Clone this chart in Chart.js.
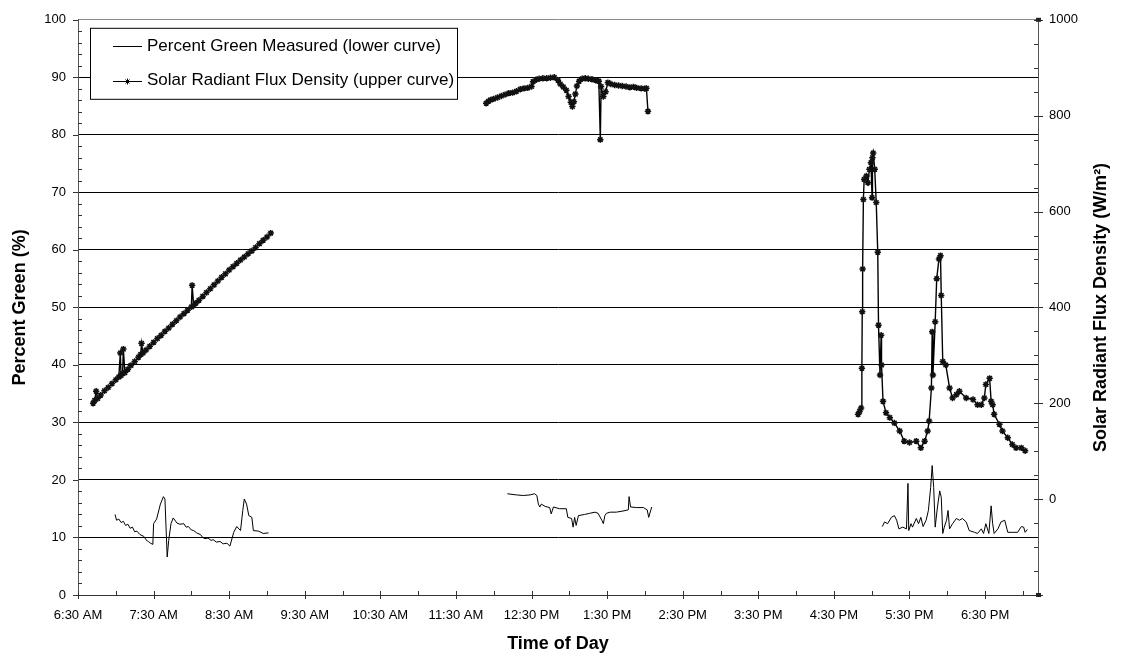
<!DOCTYPE html>
<html>
<head>
<meta charset="utf-8">
<title>Percent Green and Solar Radiant Flux Density</title>
<script src="https://cdn.jsdelivr.net/npm/chart.js@4/dist/chart.umd.min.js"></script>
<style>
  html, body { margin: 0; padding: 0; background: #fff; }
  #wrap { width: 1122px; height: 656px; }
</style>
</head>
<body>
<div id="wrap"><canvas id="myChart" width="1122" height="656"></canvas></div>
<script>
'use strict';

// x axis, hours of the day
var xTickHours = [6.5, 7.5, 8.5, 9.5, 10.5, 11.5, 12.5, 13.5, 14.5, 15.5, 16.5, 17.5, 18.5];
var xTickLabels = ['6:30 AM', '7:30 AM', '8:30 AM', '9:30 AM', '10:30 AM', '11:30 AM', '12:30 PM',
                   '1:30 PM', '2:30 PM', '3:30 PM', '4:30 PM', '5:30 PM', '6:30 PM'];

var greenLabel = 'Percent Green Measured (lower curve)';
var fluxLabel = 'Solar Radiant Flux Density (upper curve)';
var leftTitle = 'Percent Green (%)';
var rightTitle = 'Solar Radiant Flux Density (W/m\u00b2)';
var bottomTitle = 'Time of Day';

// lower curve - percent green (left axis)
var greenAmTime = [6.99, 7.01, 7.04, 7.07, 7.10, 7.13, 7.16, 7.19, 7.22, 7.25, 7.28, 7.32, 7.37, 7.40, 7.43,
                   7.46, 7.49, 7.50, 7.54, 7.59, 7.63, 7.65, 7.68, 7.70, 7.73, 7.76, 7.81, 7.85, 7.90, 7.93,
                   7.96, 8.00, 8.03, 8.07, 8.12, 8.15, 8.18, 8.22, 8.26, 8.29, 8.33, 8.38, 8.42, 8.47, 8.51,
                   8.56, 8.60, 8.65, 8.68, 8.70, 8.73, 8.76, 8.80, 8.82, 8.89, 8.95, 9.02];
var greenAmValue = [14.0, 13.0, 13.2, 12.6, 12.8, 12.1, 12.3, 11.6, 11.8, 11.0, 11.1, 10.5, 10.2, 9.6, 9.3,
                    9.0, 8.8, 12.4, 13.2, 15.8, 17.1, 16.7, 6.6, 9.5, 12.4, 13.4, 12.5, 12.3, 12.4, 11.8,
                    11.9, 11.3, 11.2, 10.8, 10.5, 10.0, 9.8, 9.9, 9.5, 9.6, 9.2, 9.3, 8.9, 9.0, 8.5,
                    10.9, 11.9, 11.2, 14.7, 16.7, 15.8, 13.8, 13.5, 11.2, 11.1, 10.7, 10.8];

var greenMidTime = [12.18, 12.30, 12.39, 12.48, 12.54, 12.57, 12.59, 12.61, 12.63, 12.68, 12.74, 12.76, 12.79, 12.87,
                    12.96, 12.98, 13.03, 13.05, 13.07, 13.09, 13.12, 13.20, 13.27, 13.34, 13.38, 13.43, 13.45,
                    13.47, 13.49, 13.54, 13.62, 13.71, 13.78, 13.79, 13.81, 13.89, 13.98, 14.03, 14.05, 14.09];
var greenMidValue = [17.6, 17.4, 17.3, 17.4, 17.6, 17.3, 15.8, 15.3, 15.8, 15.4, 15.2, 14.1, 15.3, 15.0,
                     15.0, 13.5, 13.3, 11.8, 13.5, 12.1, 13.8, 14.0, 14.2, 14.4, 14.2, 13.0, 12.4,
                     13.8, 14.2, 14.4, 14.4, 14.6, 14.8, 17.1, 15.3, 15.2, 15.2, 14.8, 13.5, 15.3];

var greenPmTime = [17.14, 17.17, 17.21, 17.26, 17.30, 17.33, 17.36, 17.41, 17.46, 17.48, 17.49, 17.52, 17.54, 17.59,
                   17.62, 17.65, 17.68, 17.72, 17.75, 17.78, 17.80, 17.82, 17.84, 17.87, 17.90, 17.92, 17.94,
                   17.96, 17.99, 18.01, 18.03, 18.07, 18.12, 18.16, 18.20, 18.25, 18.29, 18.36, 18.40, 18.45,
                   18.48, 18.51, 18.55, 18.58, 18.60, 18.62, 18.67, 18.71, 18.76, 18.80, 18.86, 18.93, 18.98,
                   19.01, 19.03, 19.06];
var greenPmValue = [11.9, 12.7, 12.4, 13.5, 13.8, 13.0, 11.5, 11.8, 11.5, 19.4, 11.2, 12.4, 11.8, 13.3,
                    12.4, 13.5, 11.9, 13.0, 14.7, 18.7, 22.5, 18.7, 11.8, 15.3, 18.1, 17.0, 10.7,
                    11.8, 13.0, 14.7, 11.5, 12.4, 13.3, 13.0, 13.3, 12.7, 11.2, 10.9, 10.7, 11.5,
                    10.7, 12.4, 10.7, 15.5, 12.4, 10.7, 11.5, 12.7, 13.0, 10.9, 10.9, 10.9, 11.9,
                    11.8, 10.9, 11.4];

// upper curve - solar radiant flux density, W/m2 (right axis)
var fluxAmTime = [6.70, 6.72, 6.74, 6.76, 6.80, 6.85, 6.90, 6.95, 7.00, 7.04, 7.06, 7.07, 7.09, 7.10, 7.12,
                  7.16, 7.20, 7.25, 7.30, 7.33, 7.34, 7.36, 7.40, 7.45, 7.50, 7.55, 7.60, 7.65, 7.70, 7.75,
                  7.80, 7.85, 7.90, 7.95, 8.00, 8.01, 8.03, 8.06, 8.10, 8.15, 8.20, 8.25, 8.30, 8.35, 8.40,
                  8.45, 8.50, 8.55, 8.60, 8.65, 8.70, 8.75, 8.80, 8.85, 8.90, 8.95, 9.00, 9.05];
var fluxAmValue = [200, 206, 225, 210, 217, 226, 233, 241, 249, 255, 305, 258, 262, 313, 264,
                   271, 279, 287, 296, 302, 325, 305, 311, 319, 327, 335, 342, 350, 357, 365,
                   372, 380, 387, 394, 401, 446, 404, 409, 415, 423, 431, 439, 447, 455, 463,
                   470, 478, 485, 492, 499, 505, 512, 518, 525, 533, 540, 547, 555];

var fluxMidTime = [11.90, 11.93, 11.96, 12.00, 12.05, 12.10, 12.15, 12.20, 12.25, 12.30, 12.35, 12.40, 12.45, 12.50,
                   12.52, 12.56, 12.60, 12.65, 12.70, 12.75, 12.80, 12.85, 12.88, 12.92, 12.96, 12.99, 13.02,
                   13.04, 13.06, 13.08, 13.10, 13.13, 13.17, 13.21, 13.25, 13.30, 13.35, 13.39, 13.41, 13.42,
                   13.45, 13.48, 13.51, 13.55, 13.60, 13.65, 13.70, 13.75, 13.80, 13.85, 13.89, 13.95, 14.00,
                   14.02, 14.04];
var fluxMidValue = [826, 830, 833, 835, 838, 841, 844, 847, 848, 851, 855, 857, 858, 861,
                    871, 875, 877, 878, 878, 879, 880, 874, 866, 860, 853, 840, 828,
                    819, 829, 845, 862, 872, 877, 878, 877, 876, 874, 872, 750, 861,
                    840, 850, 869, 866, 864, 863, 862, 861, 859, 860, 858, 857, 856,
                    857, 809];

var fluxPmTime = [16.82, 16.84, 16.86, 16.87, 16.875, 16.88, 16.89, 16.90, 16.93, 16.95, 16.97, 16.99, 17.005, 17.01,
                  17.02, 17.04, 17.06, 17.08, 17.09, 17.11, 17.125, 17.13, 17.15, 17.19, 17.24, 17.30, 17.37,
                  17.43, 17.50, 17.59, 17.65, 17.70, 17.74, 17.76, 17.79, 17.80, 17.81, 17.84, 17.86, 17.89,
                  17.91, 17.92, 17.94, 17.98, 18.03, 18.07, 18.12, 18.16, 18.25, 18.34, 18.40, 18.45, 18.49,
                  18.51, 18.56, 18.58, 18.60, 18.62, 18.69, 18.73, 18.80, 18.86, 18.91, 18.98, 19.03];
var fluxPmValue = [177, 183, 190, 273, 391, 480, 625, 667, 674, 660, 688, 702, 629, 712,
                   722, 688, 619, 515, 363, 259, 342, 280, 204, 180, 170, 159, 142,
                   121, 118, 121, 107, 121, 142, 163, 232, 349, 259, 370, 460, 501,
                   508, 425, 287, 280, 232, 211, 218, 225, 211, 208, 197, 197, 211,
                   239, 252, 204, 197, 177, 156, 142, 128, 114, 107, 107, 101];

var FONT = '"Liberation Sans", Arial, Helvetica, sans-serif';

// glue segments together with a null point so the line breaks between them
function buildPoints(times, values) {
    var pts = [];
    for (var s = 0; s < times.length; s++) {
        if (s > 0) {
            var prev = times[s - 1];
            pts.push({ x: (prev[prev.length - 1] + times[s][0]) / 2, y: null });
        }
        for (var i = 0; i < times[s].length; i++) {
            pts.push({ x: times[s][i], y: values[s][i] });
        }
    }
    return pts;
}

var greenPoints = buildPoints([greenAmTime, greenMidTime, greenPmTime], [greenAmValue, greenMidValue, greenPmValue]);
var fluxPoints = buildPoints([fluxAmTime, fluxMidTime, fluxPmTime], [fluxAmValue, fluxMidValue, fluxPmValue]);

function line(ctx, x1, y1, x2, y2) {
    ctx.beginPath();
    ctx.moveTo(x1, y1);
    ctx.lineTo(x2, y2);
    ctx.stroke();
}

// excel style tick marks, legend box, right title
var decorations = {
    id: 'decorations',
    beforeDatasetsDraw: function (chart) {
        var ctx = chart.ctx;
        var a = chart.chartArea;
        var xs = chart.scales.x, ys = chart.scales.y, ys1 = chart.scales.y1;
        var v, p;
        ctx.save();
        ctx.strokeStyle = '#333';
        ctx.lineWidth = 1;
        // x ticks
        for (v = 6.5; v <= 19.01; v += 0.5) {
            p = Math.round(xs.getPixelForValue(v)) + 0.5;
            if (xTickHours.indexOf(v) >= 0) line(ctx, p, a.bottom - 4, p, a.bottom + 4);
            else line(ctx, p, a.bottom - 4, p, a.bottom);
        }
        // left ticks
        for (v = 0; v <= 100; v += 2) {
            p = Math.round(ys.getPixelForValue(v)) + 0.5;
            if (v % 10 === 0) line(ctx, a.left - 5, p, a.left, p);
            else line(ctx, a.left, p, a.left + 4, p);
        }
        // right ticks
        for (v = -200; v <= 1000; v += 50) {
            p = Math.round(ys1.getPixelForValue(v)) + 0.5;
            if (v % 200 === 0) line(ctx, a.right - 4, p, a.right + 5, p);
            else line(ctx, a.right - 4, p, a.right, p);
        }
        // the little end blocks on the right axis
        ctx.fillStyle = '#222';
        ctx.fillRect(a.right - 2, ys1.getPixelForValue(1000) - 2, 5, 4);
        ctx.fillRect(a.right - 2, ys1.getPixelForValue(-200) - 2, 5, 4);
        ctx.restore();
    },
    afterDatasetsDraw: function (chart) {
        var ctx = chart.ctx;
        var a = chart.chartArea;
        var lx = a.left + 12, ly = a.top + 8, lw = 367, lh = 71;
        var rows = [ly + 18.5, ly + 53];
        ctx.save();
        ctx.fillStyle = '#fff';
        ctx.fillRect(lx, ly, lw, lh);
        ctx.strokeStyle = '#000';
        ctx.lineWidth = 1;
        ctx.strokeRect(lx + 0.5, ly + 0.5, lw, lh);
        ctx.font = '17px ' + FONT;
        ctx.textBaseline = 'middle';
        ctx.textAlign = 'left';
        ctx.fillStyle = '#000';
        for (var i = 0; i < chart.data.datasets.length; i++) {
            var ry = Math.round(rows[i]) + 0.5;
            ctx.lineWidth = 1;
            line(ctx, lx + 23, ry, lx + 52, ry);
            if (i === 1) {
                var cx = lx + 37.5;
                line(ctx, cx, ry - 3, cx, ry + 3);
                line(ctx, cx - 2, ry - 2, cx + 2, ry + 2);
                line(ctx, cx - 2, ry + 2, cx + 2, ry - 2);
            }
            ctx.fillText(chart.data.datasets[i].label, lx + 57, rows[i]);
        }
        ctx.restore();
    },
    afterDraw: function (chart) {
        var ctx = chart.ctx;
        var a = chart.chartArea;
        ctx.save();
        ctx.translate(a.right + 63, (a.top + a.bottom) / 2);
        ctx.rotate(-Math.PI / 2);
        ctx.font = 'bold 18px ' + FONT;
        ctx.fillStyle = '#000';
        ctx.textAlign = 'center';
        ctx.textBaseline = 'middle';
        ctx.fillText(rightTitle, 0, 0);
        ctx.restore();
    }
};

Chart.defaults.font.family = FONT;
Chart.defaults.color = '#000';

var ctx = document.getElementById('myChart').getContext('2d');
var chart = new Chart(ctx, {
    type: 'scatter',
    data: {
        datasets: [
            {
                label: greenLabel,
                data: greenPoints,
                yAxisID: 'y',
                showLine: true,
                spanGaps: false,
                borderColor: '#000',
                borderWidth: 1,
                pointRadius: 0,
                pointHoverRadius: 0
            },
            {
                label: fluxLabel,
                data: fluxPoints,
                yAxisID: 'y1',
                showLine: true,
                spanGaps: false,
                borderColor: '#000',
                borderWidth: 1.4,
                pointStyle: 'star',
                pointRadius: 3.2,
                pointBorderColor: '#111',
                pointBackgroundColor: '#111',
                pointBorderWidth: 1.5,
                pointHoverRadius: 3.2
            }
        ]
    },
    options: {
        responsive: false,
        animation: false,
        events: [],
        layout: { padding: { top: 16, left: 0, right: 0, bottom: 0 } },
        plugins: {
            legend: { display: false },
            tooltip: { enabled: false }
        },
        scales: {
            x: {
                type: 'linear',
                position: 'bottom',
                min: 6.5,
                max: 19.2,
                afterBuildTicks: function (scale) {
                    scale.ticks = xTickHours.map(function (h) { return { value: h }; });
                },
                afterFit: function (scale) { scale.height = 61; },
                grid: { display: false, drawTicks: false },
                border: { display: true, color: '#333', width: 1 },
                ticks: {
                    autoSkip: false,
                    maxRotation: 0,
                    padding: 13,
                    font: { size: 13 },
                    color: '#000',
                    callback: function (value) {
                        var i = xTickHours.indexOf(value);
                        return i >= 0 ? xTickLabels[i] : '';
                    }
                },
                title: {
                    display: true,
                    text: bottomTitle,
                    font: { size: 18, weight: 'bold' },
                    color: '#000',
                    padding: { top: 0, bottom: 1 }
                }
            },
            y: {
                type: 'linear',
                position: 'left',
                min: 0,
                max: 100,
                afterFit: function (scale) { scale.width = 78; },
                grid: {
                    drawTicks: false,
                    lineWidth: 1,
                    color: function (c) {
                        return c.tick && c.tick.value === 100 ? '#8a8a8a' : '#000';
                    }
                },
                border: { display: true, color: '#555', width: 1 },
                ticks: { stepSize: 10, padding: 12, font: { size: 13 }, color: '#000' },
                title: {
                    display: true,
                    text: leftTitle,
                    font: { size: 18, weight: 'bold' },
                    color: '#000',
                    padding: { top: 9, bottom: 0 }
                }
            },
            y1: {
                type: 'linear',
                position: 'right',
                min: -200,
                max: 1000,
                afterFit: function (scale) { scale.width = 84; },
                grid: { drawOnChartArea: false, drawTicks: false },
                border: { display: true, color: '#555', width: 1 },
                ticks: {
                    stepSize: 200,
                    padding: 11,
                    font: { size: 13 },
                    color: '#000',
                    callback: function (value) { return value === -200 ? '' : value; }
                }
            }
        }
    },
    plugins: [decorations]
});
</script>
</body>
</html>
